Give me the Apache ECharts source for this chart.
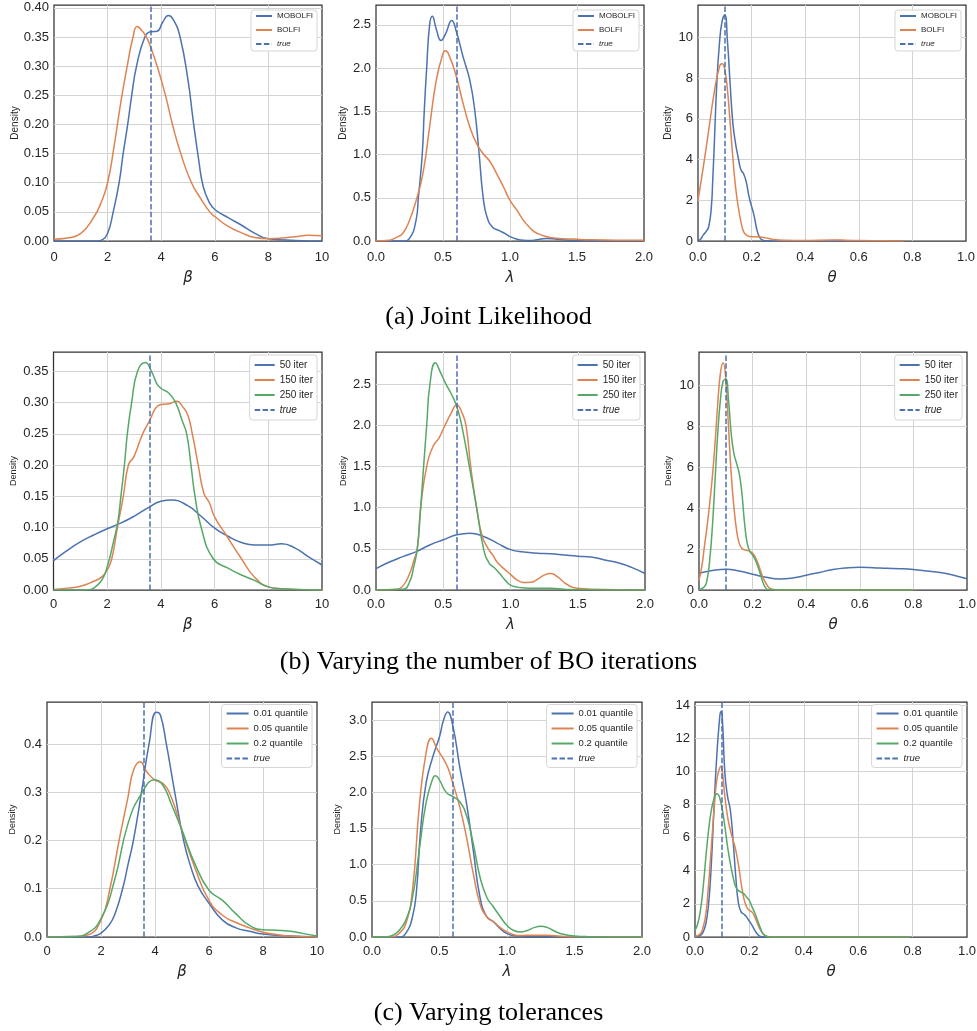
<!DOCTYPE html>
<html>
<head>
<meta charset="utf-8">
<script src="https://cdn.jsdelivr.net/npm/echarts@6/dist/echarts.min.js"></script>
<style>
html,body{margin:0;padding:0;background:#fff;}
#chart{width:977px;height:1031px;}
</style>
</head>
<body>
<div id="chart"></div>
<script>
// ---------- DATA ----------
const trueBeta = 3.6, trueLambda = 0.6, trueTheta = 0.1;

const captions = ['(a) Joint Likelihood', '(b) Varying the number of BO iterations', '(c) Varying tolerances'];
const rowSeriesNames = [
  ['MOBOLFI', 'BOLFI'],
  ['50 iter', '150 iter', '250 iter'],
  ['0.01 quantile', '0.05 quantile', '0.2 quantile']
];
const xNames = ['β', 'λ', 'θ'];

// (a) Joint likelihood
const a_beta_MOBOLFI = [[0,0],[1.6,0],[1.8,0.002],[2.0,0.013],[2.21,0.05],[2.43,0.10],[2.58,0.15],[2.75,0.20],[2.9,0.25],[3.08,0.30],[3.39,0.35],[3.6,0.359],[3.85,0.36],[4.05,0.375],[4.27,0.387],[4.45,0.38],[4.7,0.351],[5.0,0.276],[5.19,0.208],[5.4,0.139],[5.57,0.093],[5.81,0.065],[6.0,0.054],[6.5,0.04],[7.0,0.027],[7.5,0.013],[8.0,0.004],[9.0,0.001],[10,0]];
const a_beta_BOLFI = [[0,0.003],[0.5,0.005],[1.0,0.013],[1.5,0.042],[1.75,0.065],[2.0,0.10],[2.25,0.165],[2.5,0.24],[2.75,0.305],[2.95,0.35],[3.1,0.368],[3.3,0.36],[3.45,0.35],[3.6,0.334],[3.85,0.30],[4.16,0.25],[4.42,0.20],[4.73,0.15],[5.13,0.10],[5.5,0.071],[5.81,0.05],[6.0,0.042],[6.5,0.025],[7.0,0.014],[7.5,0.006],[8.0,0.004],[8.5,0.005],[9.0,0.0075],[9.5,0.0097],[10,0.009]];
const a_lambda_MOBOLFI = [[0,0],[0.2,0],[0.25,0.03],[0.3,0.25],[0.316,0.5],[0.345,1.0],[0.36,1.5],[0.378,2.0],[0.4,2.5],[0.42,2.6],[0.45,2.45],[0.485,2.32],[0.52,2.4],[0.565,2.55],[0.6,2.42],[0.65,2.13],[0.7,1.86],[0.738,1.5],[0.77,1.0],[0.8,0.5],[0.83,0.27],[0.87,0.16],[0.92,0.12],[0.97,0.08],[1.0,0.05],[1.05,0.022],[1.1,0.008],[1.15,0.006],[1.2,0.015],[1.27,0.03],[1.35,0.02],[1.45,0.008],[1.6,0.002],[2.0,0]];
const a_lambda_BOLFI = [[0,0.002],[0.1,0.01],[0.15,0.04],[0.2,0.09],[0.25,0.24],[0.3,0.47],[0.35,0.78],[0.4,1.32],[0.45,1.86],[0.5,2.17],[0.52,2.2],[0.55,2.13],[0.6,1.9],[0.65,1.59],[0.7,1.32],[0.75,1.13],[0.8,1.01],[0.85,0.92],[0.9,0.78],[0.95,0.63],[1.0,0.47],[1.05,0.36],[1.1,0.24],[1.15,0.15],[1.2,0.09],[1.3,0.04],[1.4,0.027],[1.5,0.02],[1.6,0.015],[1.8,0.01],[2.0,0.008]];
const a_theta_MOBOLFI = [[0,0],[0.01,0.1],[0.02,0.3],[0.03,0.46],[0.04,0.7],[0.05,1.7],[0.055,3.0],[0.06,4.5],[0.07,7.7],[0.08,9.7],[0.09,10.8],[0.1,11.1],[0.11,9.8],[0.12,7.7],[0.13,5.8],[0.14,4.8],[0.15,4.1],[0.16,3.5],[0.17,3.3],[0.18,2.9],[0.19,2.2],[0.2,1.7],[0.21,1.2],[0.22,0.54],[0.23,0.18],[0.24,0.05],[0.25,0.01],[0.3,0],[0.77,0]];
const a_theta_BOLFI = [[0,2.0],[0.02,3.65],[0.04,5.45],[0.06,7.25],[0.08,8.56],[0.09,8.7],[0.1,8.4],[0.11,7.4],[0.12,5.8],[0.13,4.1],[0.14,2.67],[0.15,1.7],[0.16,0.95],[0.17,0.46],[0.18,0.3],[0.2,0.21],[0.22,0.21],[0.25,0.16],[0.28,0.08],[0.3,0.05],[0.4,0.02],[0.5,0.05],[0.55,0.04],[0.6,0.02],[0.7,0.01],[0.77,0.0]];

// (b) Varying the number of BO iterations
const b_beta_50 = [[0,0.047],[0.5,0.063],[1.0,0.077],[1.5,0.088],[2.0,0.098],[2.5,0.107],[3.0,0.118],[3.5,0.131],[4.0,0.142],[4.4,0.144],[5.0,0.135],[5.5,0.118],[6.0,0.099],[6.5,0.086],[7.0,0.076],[7.5,0.072],[8.0,0.072],[8.5,0.074],[9.0,0.067],[9.5,0.053],[10,0.04]];
const b_beta_150 = [[0,0.001],[0.5,0.003],[1.0,0.006],[1.5,0.014],[1.8,0.021],[2.0,0.032],[2.17,0.05],[2.38,0.10],[2.6,0.15],[2.79,0.20],[3.0,0.214],[3.32,0.25],[3.6,0.273],[3.8,0.291],[4.0,0.297],[4.3,0.298],[4.6,0.302],[4.8,0.294],[5.0,0.28],[5.17,0.25],[5.39,0.20],[5.6,0.155],[5.8,0.14],[6.0,0.117],[6.4,0.09],[7.0,0.05],[7.5,0.02],[8.0,0.005],[8.5,0.002],[9,0.001],[10,0]];
const b_beta_250 = [[0,0],[1.3,0],[1.5,0.003],[1.8,0.016],[2.0,0.037],[2.25,0.08],[2.4,0.11],[2.51,0.15],[2.64,0.20],[2.75,0.25],[2.91,0.30],[3.13,0.35],[3.42,0.364],[3.65,0.35],[3.85,0.33],[4.0,0.323],[4.3,0.315],[4.55,0.30],[4.8,0.27],[4.96,0.25],[5.12,0.20],[5.27,0.15],[5.5,0.10],[5.95,0.05],[6.5,0.035],[7.0,0.024],[7.5,0.015],[8.0,0.005],[8.5,0.002],[10,0]];
const b_lambda_50 = [[0,0.26],[0.1,0.34],[0.2,0.405],[0.3,0.466],[0.4,0.547],[0.5,0.61],[0.6,0.67],[0.7,0.69],[0.8,0.65],[0.9,0.57],[1.0,0.49],[1.1,0.46],[1.2,0.446],[1.3,0.44],[1.4,0.425],[1.5,0.41],[1.6,0.40],[1.7,0.365],[1.8,0.33],[1.9,0.275],[2.0,0.2]];
const b_lambda_150 = [[0,0],[0.15,0.01],[0.2,0.05],[0.25,0.2],[0.28,0.35],[0.307,0.5],[0.332,1.0],[0.377,1.5],[0.426,1.75],[0.47,1.85],[0.513,2.0],[0.56,2.15],[0.6,2.25],[0.64,2.15],[0.669,2.0],[0.704,1.5],[0.748,1.0],[0.79,0.65],[0.835,0.5],[0.87,0.42],[0.9,0.34],[0.95,0.26],[1.0,0.19],[1.05,0.12],[1.1,0.09],[1.15,0.093],[1.2,0.13],[1.25,0.18],[1.3,0.2],[1.35,0.16],[1.4,0.09],[1.45,0.04],[1.5,0.02],[1.6,0.01],[2.0,0]];
const b_lambda_250 = [[0,0],[0.2,0.008],[0.25,0.1],[0.28,0.28],[0.307,0.5],[0.332,1.0],[0.354,1.5],[0.377,2.0],[0.401,2.5],[0.441,2.76],[0.48,2.64],[0.52,2.5],[0.56,2.38],[0.6,2.23],[0.637,2.0],[0.694,1.5],[0.748,1.0],[0.8,0.5],[0.84,0.33],[0.88,0.27],[0.92,0.2],[0.96,0.12],[1.0,0.06],[1.05,0.035],[1.1,0.025],[1.2,0.02],[1.3,0.02],[1.4,0.01],[1.5,0.003],[2.0,0]];
const b_theta_50 = [[0,0.82],[0.05,0.95],[0.1,1.01],[0.15,0.93],[0.2,0.77],[0.25,0.62],[0.3,0.54],[0.35,0.59],[0.4,0.72],[0.45,0.86],[0.5,1.0],[0.55,1.08],[0.6,1.11],[0.65,1.09],[0.7,1.06],[0.75,1.04],[0.8,1.0],[0.85,0.93],[0.9,0.85],[0.95,0.72],[1.0,0.55]];
const b_theta_150 = [[0,0.49],[0.01,1.1],[0.02,2.1],[0.03,3.1],[0.04,4.24],[0.05,5.55],[0.06,7.2],[0.07,9.1],[0.08,10.6],[0.09,11.1],[0.1,10.3],[0.11,8.0],[0.12,5.7],[0.13,4.1],[0.14,2.94],[0.15,2.28],[0.16,2.04],[0.17,1.96],[0.18,1.93],[0.19,1.88],[0.2,1.8],[0.21,1.6],[0.22,1.3],[0.23,0.93],[0.24,0.57],[0.25,0.33],[0.26,0.13],[0.27,0.05],[0.28,0.02],[0.3,0],[0.8,0]];
const b_theta_250 = [[0,0.03],[0.02,0.16],[0.03,0.49],[0.04,1.47],[0.05,3.1],[0.06,5.4],[0.07,7.67],[0.08,9.3],[0.09,10.2],[0.1,10.3],[0.11,9.3],[0.12,7.67],[0.13,6.69],[0.14,6.2],[0.15,5.7],[0.16,4.73],[0.17,3.26],[0.18,2.28],[0.19,1.88],[0.2,1.71],[0.21,1.47],[0.22,1.14],[0.23,0.73],[0.24,0.33],[0.25,0.08],[0.26,0.02],[0.3,0],[0.8,0]];

// (c) Varying tolerances
const c_beta_001 = [[0,0],[1.5,0],[1.8,0.003],[2.0,0.008],[2.3,0.025],[2.5,0.045],[2.8,0.1],[3.0,0.15],[3.2,0.2],[3.5,0.3],[3.78,0.4],[4.05,0.466],[4.2,0.46],[4.42,0.4],[4.73,0.3],[5.06,0.2],[5.3,0.15],[5.6,0.105],[6.0,0.07],[6.5,0.035],[7.0,0.019],[7.5,0.012],[8.0,0.006],[9.0,0.002],[10,0]];
const c_beta_005 = [[0,0],[1.0,0.001],[1.5,0.004],[2.0,0.035],[2.33,0.1],[2.67,0.2],[3.0,0.29],[3.2,0.345],[3.45,0.363],[3.7,0.342],[4.0,0.325],[4.3,0.318],[4.6,0.29],[5.0,0.221],[5.5,0.14],[6.0,0.076],[6.5,0.045],[7.0,0.03],[7.5,0.019],[8.0,0.01],[8.5,0.005],[9.0,0.002],[10,0]];
const c_beta_02 = [[0,0],[1.0,0.001],[1.5,0.008],[2.0,0.038],[2.5,0.117],[3.0,0.235],[3.5,0.297],[4.0,0.326],[4.3,0.314],[4.6,0.276],[5.0,0.221],[5.5,0.149],[6.0,0.097],[6.5,0.076],[7.0,0.048],[7.5,0.024],[8.0,0.015],[8.5,0.014],[9.0,0.012],[9.5,0.007],[10,0.002]];
const c_lambda_001 = [[0,0],[0.2,0],[0.25,0.05],[0.3,0.28],[0.33,0.65],[0.36,1.48],[0.4,2.12],[0.45,2.49],[0.5,2.77],[0.53,3.0],[0.56,3.11],[0.6,2.91],[0.65,2.35],[0.7,1.85],[0.75,1.2],[0.8,0.55],[0.85,0.28],[0.9,0.21],[0.95,0.115],[1.0,0.046],[1.05,0.02],[1.1,0.01],[1.2,0.01],[1.3,0.008],[1.5,0],[2.0,0]];
const c_lambda_005 = [[0,0],[0.15,0.002],[0.2,0.05],[0.25,0.18],[0.3,0.65],[0.35,1.8],[0.4,2.54],[0.44,2.75],[0.48,2.61],[0.52,2.49],[0.56,2.35],[0.6,2.12],[0.65,1.8],[0.7,1.38],[0.75,0.88],[0.8,0.46],[0.85,0.28],[0.9,0.21],[0.95,0.13],[1.0,0.07],[1.05,0.032],[1.1,0.02],[1.2,0.025],[1.3,0.023],[1.4,0.01],[1.5,0.003],[2.0,0]];
const c_lambda_02 = [[0,0],[0.1,0.002],[0.15,0.02],[0.2,0.09],[0.25,0.23],[0.3,0.55],[0.35,1.2],[0.4,1.85],[0.45,2.19],[0.47,2.23],[0.5,2.17],[0.55,2.0],[0.6,1.94],[0.65,1.87],[0.7,1.68],[0.75,1.29],[0.8,0.83],[0.85,0.55],[0.9,0.415],[0.95,0.28],[1.0,0.16],[1.05,0.09],[1.1,0.07],[1.15,0.09],[1.2,0.13],[1.25,0.148],[1.3,0.13],[1.35,0.083],[1.4,0.046],[1.5,0.014],[1.6,0.005],[2.0,0]];
const c_theta_001 = [[0,0],[0.02,0.1],[0.03,0.3],[0.04,0.8],[0.05,2.0],[0.06,4.4],[0.07,7.85],[0.08,10.9],[0.09,13.1],[0.095,13.6],[0.1,13.3],[0.11,9.86],[0.12,8.45],[0.13,7.65],[0.14,5.84],[0.15,3.62],[0.16,2.0],[0.17,1.5],[0.18,1.37],[0.19,1.2],[0.2,0.95],[0.21,0.7],[0.22,0.4],[0.23,0.16],[0.24,0.04],[0.25,0.01],[0.3,0],[0.79,0]];
const c_theta_005 = [[0,0.04],[0.02,0.2],[0.03,0.6],[0.04,1.4],[0.05,3.2],[0.06,5.43],[0.07,7.65],[0.08,9.46],[0.09,10.16],[0.095,10.3],[0.1,10.06],[0.11,8.45],[0.12,7.24],[0.13,6.44],[0.14,5.84],[0.15,5.23],[0.16,4.33],[0.17,3.22],[0.18,2.31],[0.19,1.81],[0.2,1.6],[0.21,1.5],[0.22,1.2],[0.23,0.8],[0.24,0.44],[0.25,0.2],[0.26,0.06],[0.27,0.02],[0.3,0],[0.79,0]];
const c_theta_02 = [[0,0.4],[0.01,0.8],[0.02,1.6],[0.03,3.0],[0.04,4.83],[0.05,6.44],[0.06,7.65],[0.07,8.35],[0.08,8.65],[0.085,8.6],[0.09,8.45],[0.1,7.75],[0.11,6.64],[0.12,5.43],[0.13,4.43],[0.14,3.62],[0.15,3.02],[0.16,2.8],[0.17,2.7],[0.18,2.6],[0.19,2.4],[0.2,2.2],[0.21,1.8],[0.22,1.45],[0.23,1.0],[0.24,0.56],[0.25,0.2],[0.26,0.06],[0.27,0.02],[0.3,0],[0.79,0]];

// ---------- STYLE / LAYOUT ----------
const COLORS = ['#4c72b0', '#dd8452', '#55a868'];
const W = 977;
const panels = [
  {grid:{left:54,top:5,width:268,height:236}, xMax:10, xInt:2, xDec:0, xi:0, yMax:0.405, yInt:0.05, yDec:2, gapY:34, row:0, curves:[a_beta_MOBOLFI,a_beta_BOLFI], tv:trueBeta},
  {grid:{left:376,top:5,width:268,height:236}, xMax:2, xInt:0.5, xDec:1, xi:1, yMax:2.73, yInt:0.5, yDec:1, gapY:28, row:0, curves:[a_lambda_MOBOLFI,a_lambda_BOLFI], tv:trueLambda},
  {grid:{left:698,top:5,width:268,height:236}, xMax:1, xInt:0.2, xDec:1, xi:2, yMax:11.59, yInt:2, yDec:0, gapY:25, row:0, curves:[a_theta_MOBOLFI,a_theta_BOLFI], tv:trueTheta},
  {grid:{left:53.5,top:352,width:268.5,height:238}, xMax:10, xInt:2, xDec:0, xi:0, yMax:0.381, yInt:0.05, yDec:2, gapY:35, row:1, curves:[b_beta_50,b_beta_150,b_beta_250], tv:trueBeta},
  {grid:{left:376,top:352,width:269,height:238}, xMax:2, xInt:0.5, xDec:1, xi:1, yMax:2.89, yInt:0.5, yDec:1, gapY:28, row:1, curves:[b_lambda_50,b_lambda_150,b_lambda_250], tv:trueLambda},
  {grid:{left:699,top:352,width:268,height:238}, xMax:1, xInt:0.2, xDec:1, xi:2, yMax:11.63, yInt:2, yDec:0, gapY:26, row:1, curves:[b_theta_50,b_theta_150,b_theta_250], tv:trueTheta},
  {grid:{left:47,top:702,width:270,height:235}, xMax:10, xInt:2, xDec:0, xi:0, yMax:0.487, yInt:0.1, yDec:1, gapY:30, row:2, curves:[c_beta_001,c_beta_005,c_beta_02], tv:trueBeta},
  {grid:{left:372,top:702,width:270,height:235}, xMax:2, xInt:0.5, xDec:1, xi:1, yMax:3.25, yInt:0.5, yDec:1, gapY:30, row:2, curves:[c_lambda_001,c_lambda_005,c_lambda_02], tv:trueLambda},
  {grid:{left:695,top:702,width:272,height:235}, xMax:1, xInt:0.2, xDec:1, xi:2, yMax:14.18, yInt:2, yDec:0, gapY:24, row:2, curves:[c_theta_001,c_theta_005,c_theta_02], tv:trueTheta}
];
const rowStyle = [
  {font:8, iw:16, ih:8, gap:6, top:5, pad:[2,4,3,4], nameGap:30, labelMargin:10},
  {font:10, iw:20, ih:10, gap:5, top:3, pad:[5,4,5,4], nameGap:28, labelMargin:8},
  {font:9.5, iw:22, ih:10, gap:5, top:2.5, pad:[4,4,4,4], nameGap:28, labelMargin:8}
];
const captionY = [317, 662.5, 1013];
const TXT = '#262626';
const SANS = 'Liberation Sans, Arial, sans-serif';

function fmt(dec, step) {
  return function (v) {
    const k = v / step;
    if (Math.abs(k - Math.round(k)) > 1e-6) return '';
    return Number(v).toFixed(dec);
  };
}

const option = {
  backgroundColor: '#fff',
  animation: false,
  grid: [], xAxis: [], yAxis: [], series: [], legend: [], graphic: []
};

panels.forEach((p, i) => {
  const rs = rowStyle[p.row];
  option.grid.push(Object.assign({
    show: true, backgroundColor: '#fff', borderColor: '#333', borderWidth: 1.25,
    containLabel: false, outerBoundsMode: 'none'
  }, p.grid));
  option.xAxis.push({
    type: 'value', gridIndex: i, min: 0, max: p.xMax, interval: p.xInt,
    name: xNames[p.xi], nameLocation: 'middle', nameGap: rs.nameGap,
    nameTextStyle: {fontFamily: 'DejaVu Sans', fontStyle: 'italic', fontSize: 15, color: TXT},
    axisLine: {show: false}, axisTick: {show: false},
    axisLabel: {formatter: fmt(p.xDec, p.xInt), fontFamily: SANS, fontSize: 13, color: TXT, margin: rs.labelMargin,
                showMinLabel: true, showMaxLabel: true},
    splitLine: {show: true, showMinLine: false, showMaxLine: false, lineStyle: {color: '#d3d3d3', width: 1}}
  });
  option.yAxis.push({
    type: 'value', gridIndex: i, min: 0, max: p.yMax, interval: p.yInt,
    name: 'Density', nameLocation: 'middle', nameGap: p.gapY,
    nameTextStyle: {fontFamily: SANS, fontSize: p.row === 0 ? 10 : 9, color: TXT},
    axisLine: {show: false}, axisTick: {show: false},
    axisLabel: {formatter: fmt(p.yDec, p.yInt), fontFamily: SANS, fontSize: 13, color: TXT, margin: 5,
                showMinLabel: true, showMaxLabel: false},
    splitLine: {show: true, showMinLine: false, showMaxLine: false, lineStyle: {color: '#d3d3d3', width: 1}}
  });
  const names = rowSeriesNames[p.row];
  p.curves.forEach((d, j) => {
    option.series.push({
      type: 'line', name: names[j], xAxisIndex: i, yAxisIndex: i, data: d,
      smooth: 0.5, symbol: 'none', showSymbol: false,
      lineStyle: {color: COLORS[j], width: 1.5}, itemStyle: {color: COLORS[j]}
    });
  });
  option.series.push({
    type: 'line', name: 'true', xAxisIndex: i, yAxisIndex: i, data: [],
    symbol: 'none', showSymbol: false,
    lineStyle: {color: COLORS[0], width: 1.5, type: [5.5, 2.4]}, itemStyle: {color: COLORS[0]},
    markLine: {
      silent: true, symbol: ['none', 'none'], label: {show: false},
      lineStyle: {color: COLORS[0], width: 1.5, type: [5.5, 2.4]},
      data: [{xAxis: p.tv}]
    }
  });
  option.legend.push({
    orient: 'vertical',
    right: W - (p.grid.left + p.grid.width) + 5,
    top: p.grid.top + rs.top,
    itemWidth: rs.iw, itemHeight: rs.ih, itemGap: rs.gap,
    padding: rs.pad,
    backgroundColor: '#fff', borderColor: '#d6d6d6', borderWidth: 1, borderRadius: 3,
    textStyle: {fontFamily: SANS, fontSize: rs.font, color: TXT},
    itemStyle: {color: 'rgba(0,0,0,0)', borderColor: 'rgba(0,0,0,0)', borderWidth: 0, opacity: 0},
    selectedMode: false,
    data: names.map(n => ({name: n})).concat([{name: 'true', textStyle: {fontStyle: 'italic'}}])
  });
});

captions.forEach((c, r) => {
  option.graphic.push({
    type: 'text', left: 'center', top: captionY[r] - 13,
    style: {text: c, font: '26px "Liberation Serif", "Times New Roman", serif', fill: '#000'}
  });
});

const chart = echarts.init(document.getElementById('chart'), null, {renderer: 'canvas'});
chart.setOption(option);
</script>
</body>
</html>
